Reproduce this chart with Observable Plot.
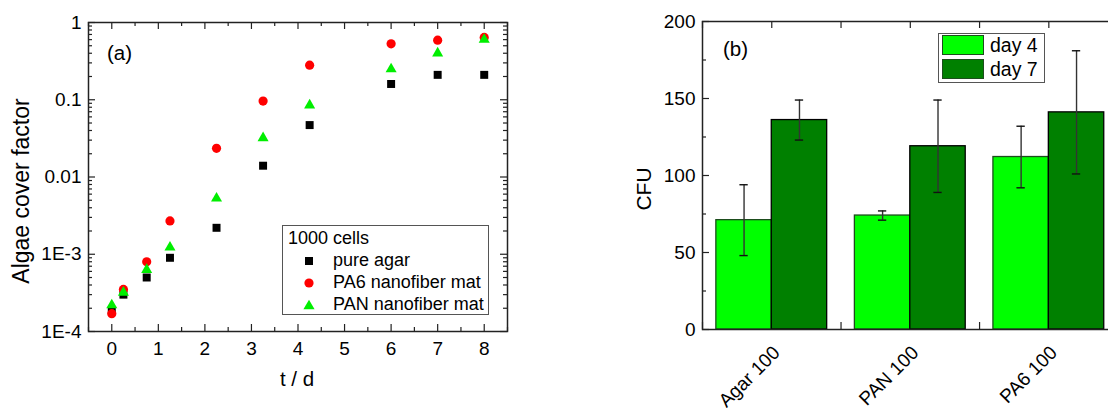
<!DOCTYPE html>
<html><head><meta charset="utf-8">
<script src="https://cdn.jsdelivr.net/npm/d3@7"></script>
<script src="https://cdn.jsdelivr.net/npm/@observablehq/plot@0.6"></script>
<style>
html,body{margin:0;padding:0;background:#fff;}
#wrap{position:relative;width:1108px;height:408px;overflow:hidden;font-family:"Liberation Sans",Arial,sans-serif;color:#000;}
.panel{position:absolute;top:0;}
.t{position:absolute;white-space:nowrap;line-height:1;}
.lgA{position:absolute;left:282px;top:225px;width:205px;height:88px;border:1.5px solid #555;background:#fff;}
.lgA .row{position:absolute;left:0;font-size:18px;white-space:nowrap;}
.lgB{position:absolute;left:938px;top:33px;width:105px;height:48px;border:1.5px solid #555;background:#fff;}
.sw{position:absolute;left:3px;width:42px;height:20px;box-sizing:border-box;border:1.5px solid #1d4d1d;}
.lgB .lab{position:absolute;left:51px;font-size:19.5px;}
</style></head>
<body><div id="wrap"></div>
<script>
// ---------- Panel (a) data ----------
const days = [0, 0.25, 0.75, 1.25, 2.25, 3.25, 4.25, 6, 7, 8];
const pureAgar = [1.87e-4, 3.0e-4, 5.0e-4, 9.0e-4, 2.2e-3, 0.014, 0.047, 0.16, 0.21, 0.21];
const pa6Mat   = [1.7e-4, 3.5e-4, 8.0e-4, 2.7e-3, 0.0235, 0.096, 0.28, 0.53, 0.59, 0.64];
const panMat   = [2.2e-4, 3.2e-4, 6.3e-4, 1.23e-3, 5.3e-3, 0.032, 0.085, 0.25, 0.40, 0.60];
const seriesNames = ["pure agar", "PA6 nanofiber mat", "PAN nanofiber mat"];
const legendTitle = "1000 cells";
const xTicksA = [0, 1, 2, 3, 4, 5, 6, 7, 8];
const yTicksA = [1e-4, 1e-3, 0.01, 0.1, 1];
const yTickLabelsA = ["1E-4", "1E-3", "0.01", "0.1", "1"];

// ---------- Panel (b) data ----------
const groups = ["Agar 100", "PAN 100", "PA6 100"];
const day4 = [71, 74, 112];
const day4Err = [23, 3, 20];
const day7 = [136, 119, 141];
const day7Err = [13, 30, 40];
const barSeries = ["day 4", "day 7"];
const yTicksB = [0, 50, 100, 150, 200];

const wrap = document.getElementById("wrap");
const FONT = '"Liberation Sans", Arial, sans-serif';
const TK = "#222";

// ===== Panel (a) =====
{
  const W = 520, H = 408, mL = 88, mR = 13, mT = 22, mB = 77;
  const pw = W - mL - mR, ph = H - mT - mB;
  const pts = [
    ...days.map((d, i) => ({t: d, v: pureAgar[i], s: 0})),
    ...days.map((d, i) => ({t: d, v: pa6Mat[i], s: 1})),
    ...days.map((d, i) => ({t: d, v: panMat[i], s: 2}))
  ];
  const xMinor = d3.range(-0.5, 8.51, 0.5).filter(v => !Number.isInteger(v));
  const yMinor = d3.range(-4, 0).flatMap(k => d3.range(2, 10).map(m => m * 10 ** k));
  const maj = 7, mnr = 4;
  const p = Plot.plot({
    width: W, height: H, marginLeft: mL, marginRight: mR, marginTop: mT, marginBottom: mB,
    style: {fontFamily: FONT, fontSize: "19px", color: "#000", background: "transparent", overflow: "visible"},
    x: {domain: [-0.5, 8.5]},
    y: {type: "log", domain: [1e-4, 1]},
    marks: [
      Plot.tickX(xTicksA, {x: d => d, insetTop: ph - maj, stroke: TK, strokeWidth: 1.2}),
      Plot.tickX(xMinor, {x: d => d, insetTop: ph - mnr, stroke: TK, strokeWidth: 1.2}),
      Plot.tickX(xTicksA, {x: d => d, insetBottom: ph - maj, stroke: TK, strokeWidth: 1.2}),
      Plot.tickX(xMinor, {x: d => d, insetBottom: ph - mnr, stroke: TK, strokeWidth: 1.2}),
      Plot.tickY(yTicksA, {y: d => d, insetRight: pw - maj, stroke: TK, strokeWidth: 1.2}),
      Plot.tickY(yMinor, {y: d => d, insetRight: pw - mnr, stroke: TK, strokeWidth: 1.2}),
      Plot.tickY(yTicksA, {y: d => d, insetLeft: pw - maj, stroke: TK, strokeWidth: 1.2}),
      Plot.tickY(yMinor, {y: d => d, insetLeft: pw - mnr, stroke: TK, strokeWidth: 1.2}),
      Plot.frame({stroke: TK, strokeWidth: 1.5}),
      Plot.axisX({ticks: xTicksA, tickSize: 0, tickPadding: 10, label: null, tickFormat: d => String(d)}),
      Plot.axisY({ticks: yTicksA, tickSize: 0, tickPadding: 7, label: null,
                  tickFormat: d => yTickLabelsA[yTicksA.indexOf(d)]}),
      Plot.dot(pts.filter(d => d.s === 0), {x: "t", y: "v", symbol: "square", r: 4.5, fill: "#000"}),
      Plot.dot(pts.filter(d => d.s === 1), {x: "t", y: "v", symbol: "circle", r: 4.6, fill: "#ff0000"}),
      Plot.dot(pts.filter(d => d.s === 2), {x: "t", y: "v", symbol: "triangle", r: 4.1, fill: "#00ee00"})
    ]
  });
  p.classList.add("panel");
  p.style.left = "0px";
  wrap.appendChild(p);
}

// ===== Panel (b) =====
{
  const left = 590, W = 540, H = 408, mL = 112, mR = 12.4, mT = 21, mB = 79;
  const pw = W - mL - mR, ph = H - mT - mB;
  const rows = [
    ...groups.map((g, i) => ({g: i, s: 0, v: day4[i], e: day4Err[i]})),
    ...groups.map((g, i) => ({g: i, s: 1, v: day7[i], e: day7Err[i]}))
  ];
  const bw = 0.4;
  const cx = d => d.g - bw + d.s * bw + bw / 2;
  const xTk = [-0.5, 0, 0.5, 1, 1.5, 2, 2.5];
  const yMinorB = [25, 75, 125, 175];
  const maj = 7, mnr = 4;
  const p = Plot.plot({
    width: W, height: H, marginLeft: mL, marginRight: mR, marginTop: mT, marginBottom: mB,
    style: {fontFamily: FONT, fontSize: "19px", color: "#000", background: "transparent", overflow: "visible"},
    x: {domain: [-0.5, 2.5], axis: null},
    y: {domain: [0, 200]},
    marks: [
      Plot.tickX(xTk, {x: d => d, insetTop: ph - maj, stroke: TK, strokeWidth: 1.2}),
      Plot.tickX(xTk, {x: d => d, insetBottom: ph - maj, stroke: TK, strokeWidth: 1.2}),
      Plot.tickY(yTicksB, {y: d => d, insetRight: pw - maj, stroke: TK, strokeWidth: 1.2}),
      Plot.tickY(yMinorB, {y: d => d, insetRight: pw - mnr, stroke: TK, strokeWidth: 1.2}),
      Plot.rectY(rows, {
        x1: d => d.g - bw + d.s * bw, x2: d => d.g + d.s * bw, y1: 0, y2: "v",
        fill: d => d.s === 0 ? "#00ff00" : "#008000",
        stroke: d => d.s === 0 ? "#1d4d1d" : "#000", strokeWidth: 1.3
      }),
      Plot.ruleX(rows, {x: cx, y1: d => d.v - d.e, y2: d => d.v + d.e, stroke: "#333", strokeWidth: 1.4}),
      Plot.ruleY(rows, {y: d => d.v + d.e, x1: d => cx(d) - 0.03, x2: d => cx(d) + 0.03, stroke: "#111", strokeWidth: 1.4}),
      Plot.ruleY(rows, {y: d => d.v - d.e, x1: d => cx(d) - 0.03, x2: d => cx(d) + 0.03, stroke: "#111", strokeWidth: 1.4}),
      Plot.frame({stroke: TK, strokeWidth: 1.5}),
      Plot.axisY({ticks: yTicksB, tickSize: 0, tickPadding: 7, label: null}),
      Plot.text(groups, {x: (d, i) => i, y: 0, text: d => d, rotate: -45, textAnchor: "end",
                         lineAnchor: "middle", dy: 20, dx: 5, fontSize: 19})
    ]
  });
  p.classList.add("panel");
  p.style.left = left + "px";
  wrap.appendChild(p);
}

// ===== Titles & annotations =====
function addText(txt, css) {
  const d = document.createElement("div");
  d.className = "t";
  d.textContent = txt;
  Object.assign(d.style, css);
  wrap.appendChild(d);
  return d;
}
addText("(a)", {left: "107px", top: "43px", fontSize: "20.5px"});
addText("t / d", {left: "297px", top: "369px", fontSize: "20.5px", transform: "translateX(-50%)"});
addText("Algae cover factor", {left: "21px", top: "191px", fontSize: "23px",
  transform: "translate(-50%,-50%) rotate(-90deg)"});
addText("(b)", {left: "723px", top: "39px", fontSize: "20.5px"});
addText("CFU", {left: "643px", top: "189px", fontSize: "21px",
  transform: "translate(-50%,-50%) rotate(-90deg)"});

// ===== Legend (a) =====
{
  const lg = document.createElement("div");
  lg.className = "lgA";
  const title = document.createElement("div");
  title.className = "row"; title.style.left = "5px"; title.style.top = "2px";
  title.textContent = legendTitle;
  lg.appendChild(title);
  const syms = [
    '<rect x="-4" y="-4" width="8" height="8" fill="#000"/>',
    '<circle r="4.6" fill="#ff0000"/>',
    '<path d="M0,-5.3L5.6,4.3L-5.6,4.3Z" fill="#00ee00"/>'
  ];
  seriesNames.forEach((n, i) => {
    const row = document.createElement("div");
    row.className = "row";
    row.style.top = (24 + i * 22) + "px";
    row.style.left = "0px";
    row.innerHTML = `<svg width="14" height="14" style="position:absolute;left:19px;top:4px;overflow:visible"><g transform="translate(7,7)">${syms[i]}</g></svg><span style="position:absolute;left:50px;top:0">${n}</span>`;
    lg.appendChild(row);
  });
  wrap.appendChild(lg);
}
// ===== Legend (b) =====
{
  const lg = document.createElement("div");
  lg.className = "lgB";
  const fills = ["#00ff00", "#008000"];
  barSeries.forEach((n, i) => {
    const sw = document.createElement("div");
    sw.className = "sw";
    sw.style.top = (1 + i * 24) + "px";
    sw.style.background = fills[i];
    lg.appendChild(sw);
    const lab = document.createElement("div");
    lab.className = "lab t";
    lab.style.top = (2 + i * 24) + "px";
    lab.textContent = n;
    lg.appendChild(lab);
  });
  wrap.appendChild(lg);
}
</script>
</body></html>
